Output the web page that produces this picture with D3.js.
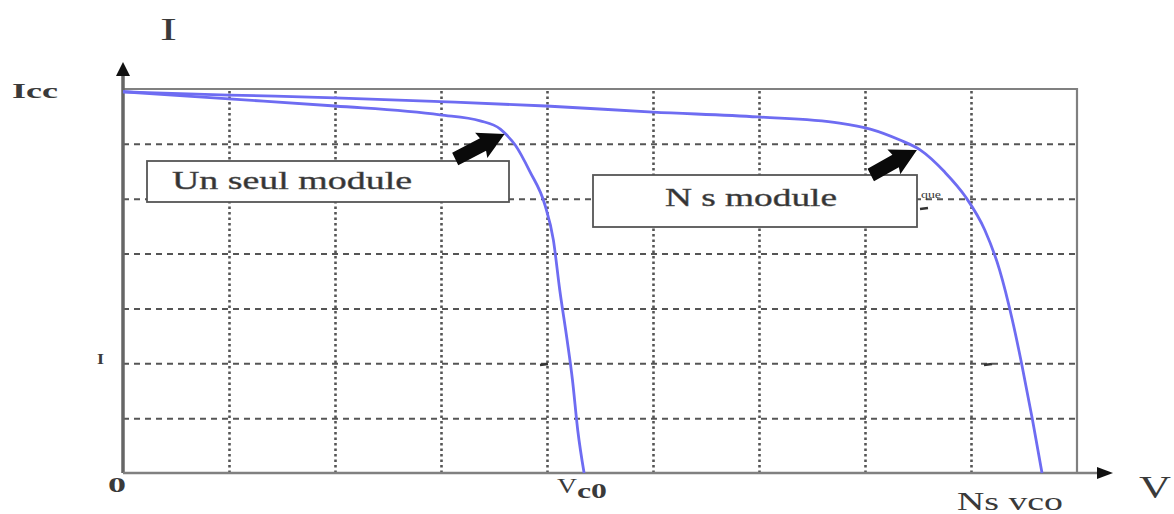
<!DOCTYPE html>
<html>
<head>
<meta charset="utf-8">
<script src="https://cdn.jsdelivr.net/npm/d3@7"></script>
<style>
  html, body { margin: 0; padding: 0; background: #fff; }
  svg { display: block; }
  text { font-family: "Liberation Serif", "DejaVu Serif", serif; fill: #3a3a3a; }
</style>
</head>
<body>
<svg id="chart"></svg>
<script>
// I-V characteristic: one module vs Ns modules in series (grid units)
const gridCols = d3.range(0, 10)   // vertical grid positions (V)
const gridRows = d3.range(0, 8)    // horizontal grid positions (I)

const singleV = [0, 1, 2, 2.99, 3.37, 3.56, 3.62, 3.70, 3.84, 3.98, 4.06, 4.12, 4.19, 4.24, 4.29, 4.35]
const singleI = [6.95, 6.82, 6.69, 6.53, 6.42, 6.27, 6.16, 5.98, 5.49, 4.89, 4.25, 3.34, 2.42, 1.70, 0.78, 0]

const seriesV = [0, 1, 2, 2.99, 3.99, 5, 5.99, 6.76, 7.05, 7.33, 7.52, 7.75, 7.95, 8.13, 8.27, 8.39, 8.48, 8.58, 8.67]
const seriesI = [6.95, 6.89, 6.84, 6.77, 6.69, 6.58, 6.49, 6.38, 6.27, 6.07, 5.89, 5.49, 5.03, 4.43, 3.70, 2.79, 1.97, 0.97, 0]

const curveLabels = ['Un seul module', 'N s module']
const axisLabels = { y: 'I', x: 'V', isc: 'Icc', origin: '0', voc: 'V', vocSub: 'c0', nsVoc: 'Ns vco', iTick: 'I' }

// Measurements
const fullWidth = 1174
const fullHeight = 514
const plot = { left: 123, top: 89, right: 1077, bottom: 473 }
const blue = '#6e6cf2'
const grey = '#555'

const svg = d3.select('#chart')
    .attr('width', fullWidth)
    .attr('height', fullHeight)

const xScale = d3.scaleLinear().domain([0, 9]).range([plot.left, plot.right])
const yScale = d3.scaleLinear().domain([0, 7]).range([plot.bottom, plot.top])

// Grid: vertical dotted, horizontal dashed
const xGrid = d3.axisBottom(xScale)
    .tickValues(gridCols.slice(1, -1))
    .tickSize(-(plot.bottom - plot.top))
    .tickFormat('')

const yGrid = d3.axisLeft(yScale)
    .tickValues(gridRows.slice(1, -1))
    .tickSize(-(plot.right - plot.left))
    .tickFormat('')

svg.append('g')
    .attr('class', 'x-grid')
    .attr('transform', `translate(0, ${plot.bottom})`)
    .call(xGrid)
    .call(g => g.select('.domain').remove())
    .selectAll('line')
        .attr('stroke', grey)
        .attr('stroke-width', 2.6)
        .attr('stroke-dasharray', '2.5,3')

svg.append('g')
    .attr('class', 'y-grid')
    .attr('transform', `translate(${plot.left}, 0)`)
    .call(yGrid)
    .call(g => g.select('.domain').remove())
    .selectAll('line')
        .attr('stroke', grey)
        .attr('stroke-width', 2)
        .attr('stroke-dasharray', '6,5')

// Frame (top and right)
svg.append('path')
    .attr('d', `M${xScale(0)},${yScale(7)}H${xScale(9)}V${yScale(0)}`)
    .attr('fill', 'none')
    .attr('stroke', '#808080')
    .attr('stroke-width', 2.2)

// Axes with arrow heads
svg.append('line')
    .attr('x1', xScale(0)).attr('y1', yScale(0))
    .attr('x2', xScale(0)).attr('y2', yScale(7) - 18)
    .attr('stroke', '#666')
    .attr('stroke-width', 3.5)

svg.append('path')
    .attr('d', `M${xScale(0) - 7},${yScale(7) - 13}L${xScale(0)},${yScale(7) - 27}L${xScale(0) + 7},${yScale(7) - 13}Z`)
    .attr('fill', '#111')

svg.append('line')
    .attr('x1', xScale(0)).attr('y1', yScale(0))
    .attr('x2', xScale(9) + 25).attr('y2', yScale(0))
    .attr('stroke', '#808080')
    .attr('stroke-width', 2.6)

svg.append('path')
    .attr('d', `M${xScale(9) + 20},${yScale(0) - 6}L${xScale(9) + 36},${yScale(0)}L${xScale(9) + 20},${yScale(0) + 6}Z`)
    .attr('fill', '#111')

// Curves
const line = d3.line()
    .x(d => xScale(d[0]))
    .y(d => yScale(d[1]))
    .curve(d3.curveMonotoneX)

const curves = [d3.zip(singleV, singleI), d3.zip(seriesV, seriesI)]

svg.selectAll('.iv')
    .data(curves)
    .enter()
    .append('path')
        .attr('class', 'iv')
        .attr('d', line)
        .attr('fill', 'none')
        .attr('stroke', blue)
        .attr('stroke-width', 2.8)

// Label boxes
const boxes = [
    { x0: 147, y0: 161, x1: 509, y1: 202, tx: 172, ty: 189, len: 240 },
    { x0: 593, y0: 175, x1: 917, y1: 227, tx: 665, ty: 206, len: 172 }
]

const box = svg.selectAll('.label-box')
    .data(boxes)
    .enter()
    .append('g')
        .attr('class', 'label-box')

box.append('rect')
    .attr('x', d => d.x0)
    .attr('y', d => d.y0)
    .attr('width', d => d.x1 - d.x0)
    .attr('height', d => d.y1 - d.y0)
    .attr('fill', '#fff')
    .attr('stroke', '#555')
    .attr('stroke-width', 1.8)

box.append('text')
    .attr('x', d => d.tx)
    .attr('y', d => d.ty)
    .attr('font-size', 25)
    .attr('textLength', d => d.len)
    .attr('lengthAdjust', 'spacingAndGlyphs')
    .style('fill', '#333')
    .style('stroke', '#555')
    .style('stroke-width', 0.4)
    .text((d, i) => curveLabels[i])

// Black pointer arrows (tail -> tip, grid units)
const pointers = [
    { from: [3.13, 5.74], to: [3.60, 6.18] },
    { from: [7.05, 5.45], to: [7.49, 5.89] }
]

svg.selectAll('.pointer')
    .data(pointers)
    .enter()
    .append('path')
        .attr('class', 'pointer')
        .attr('transform', d => {
            const x0 = xScale(d.from[0]), y0 = yScale(d.from[1])
            const x1 = xScale(d.to[0]), y1 = yScale(d.to[1])
            const angle = Math.atan2(y1 - y0, x1 - x0) * 180 / Math.PI
            return `translate(${x0}, ${y0}) rotate(${angle})`
        })
        .attr('d', d => {
            const dx = xScale(d.to[0]) - xScale(d.from[0])
            const dy = yScale(d.to[1]) - yScale(d.from[1])
            const len = Math.hypot(dx, dy)
            return `M0,-6L${len - 24},-7L${len - 26},-14L${len},0L${len - 26},14L${len - 24},7L0,8Z`
        })
        .attr('fill', '#0a0a0a')

// Axis texts
const texts = [
    { t: axisLabels.y, x: 160, y: 40, size: 32, len: 17 },
    { t: axisLabels.isc, x: 12, y: 98, size: 22, len: 46, weight: 'bold' },
    { t: axisLabels.origin, x: 108, y: 492, size: 20, len: 18, weight: 'bold' },
    { t: axisLabels.voc, x: 557, y: 493, size: 22, len: 20 },
    { t: axisLabels.vocSub, x: 577, y: 498, size: 20, len: 30, weight: 'bold' },
    { t: axisLabels.nsVoc, x: 957, y: 510, size: 25, len: 106 },
    { t: axisLabels.x, x: 1139, y: 498, size: 32, len: 32 },
    { t: axisLabels.iTick, x: 97, y: 364, size: 15, len: 7, weight: 'bold' }
]

svg.selectAll('.axis-text')
    .data(texts)
    .enter()
    .append('text')
        .attr('class', 'axis-text')
        .attr('x', d => d.x)
        .attr('y', d => d.y)
        .attr('font-size', d => d.size)
        .attr('font-weight', d => d.weight || 'normal')
        .attr('textLength', d => d.len)
        .attr('lengthAdjust', 'spacingAndGlyphs')
        .text(d => d.t)

// Leftover scan marks
svg.append('text')
    .attr('x', 921).attr('y', 198)
    .attr('font-size', 10)
    .attr('textLength', 20)
    .attr('lengthAdjust', 'spacingAndGlyphs')
    .text('que')

const marks = [[540, 365], [984, 365], [920, 209]]
svg.selectAll('.mark')
    .data(marks)
    .enter()
    .append('line')
        .attr('x1', d => d[0]).attr('y1', d => d[1])
        .attr('x2', d => d[0] + 8).attr('y2', d => d[1] - 1)
        .attr('stroke', '#333')
        .attr('stroke-width', 2.5)
</script>
</body>
</html>
